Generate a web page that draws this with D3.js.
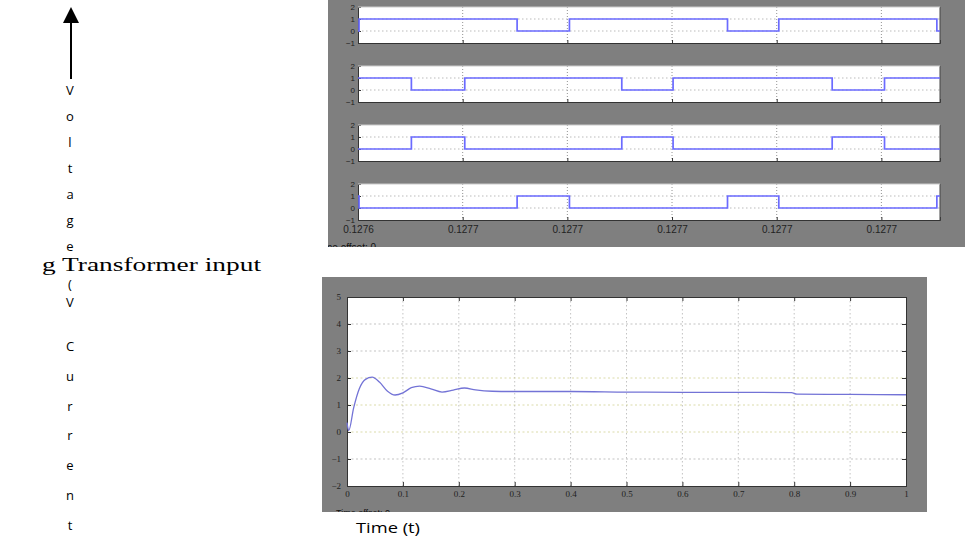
<!DOCTYPE html>
<html>
<head>
<meta charset="utf-8">
<script src="https://cdn.jsdelivr.net/npm/d3@7"></script>
<style>
  body { margin: 0; background: #fff; }
  svg { display: block; }
</style>
</head>
<body>
<div id="chart"></div>
<script>
// Gate pulse scope (top), in grid divisions
var topTickLabels = ["0.1276", "0.1277", "0.1277", "0.1277", "0.1277", "0.1277"];
var topYTicks = [2, 1, 0, -1];
var pulseA = [[0, 0], [0.01, 1], [1.52, 0], [2.02, 1], [3.53, 0], [4.02, 1], [5.53, 0], [5.56, 0]];
var pulseB = [[0, 1], [0.51, 0], [1.02, 1], [2.52, 0], [3.01, 1], [4.53, 0], [5.03, 1], [5.56, 1]];
var pulseC = [[0, 0], [0.51, 1], [1.02, 0], [2.52, 1], [3.01, 0], [4.53, 1], [5.03, 0], [5.56, 0]];
var pulseD = [[0, 1], [0.01, 0], [1.52, 1], [2.02, 0], [3.53, 1], [4.02, 0], [5.53, 1], [5.56, 1]];

// Current scope (bottom)
var botXTicks = [0, 0.1, 0.2, 0.3, 0.4, 0.5, 0.6, 0.7, 0.8, 0.9, 1];
var botYTicks = [5, 4, 3, 2, 1, 0, -1, -2];
var currentT = [0, 0.003, 0.012, 0.022, 0.033, 0.045, 0.058, 0.072, 0.086, 0.1, 0.115, 0.13, 0.15, 0.17, 0.19, 0.21, 0.23, 0.26, 0.3, 0.4, 0.5, 0.6, 0.7, 0.795, 0.805, 0.9, 1];
var currentI = [0.35, 0.05, 0.9, 1.6, 1.95, 2.03, 1.85, 1.52, 1.37, 1.45, 1.64, 1.70, 1.6, 1.48, 1.55, 1.63, 1.56, 1.51, 1.5, 1.5, 1.48, 1.47, 1.47, 1.46, 1.40, 1.39, 1.38];

// Side labels (one letter per line, baselines)
var voltLetters = ["V", "o", "l", "t", "a", "g", "e", "(", "V"];
var voltBase = [95, 121, 147, 173, 199, 225, 251, 289, 307];
var currLetters = ["C", "u", "r", "r", "e", "n", "t"];

var svg = d3.select("#chart").append("svg")
    .attr("width", 965)
    .attr("height", 544);

var scopeGray = "#7f7f7f";
var waveBlue = "#6b6bff";

function styleAxis(font) {
    return function(a) {
        a.select(".domain").attr("stroke", "#333");
        a.selectAll("line").attr("stroke", "#333");
        a.selectAll("text").attr("fill", "#222").style("font", font);
    };
}

// ---------- Top scope ----------
svg.append("rect")
    .attr("x", 328).attr("y", 0)
    .attr("width", 637).attr("height", 247)
    .attr("fill", scopeGray);

var clipTop = svg.append("clipPath").attr("id", "clipTop");
clipTop.append("rect").attr("x", 328).attr("y", 0).attr("width", 637).attr("height", 247);

var xTop = d3.scaleLinear().domain([0, 5.56]).range([358, 940]);
var pulses = [pulseA, pulseB, pulseC, pulseD];
var panelTops = [7, 66, 125, 184];
var panelH = 36;

pulses.forEach(function(series, i) {
    var y = d3.scaleLinear().domain([-1, 2]).range([panelTops[i] + panelH, panelTops[i]]);
    var g = svg.append("g");

    g.append("rect")
        .attr("x", xTop.range()[0]).attr("y", panelTops[i])
        .attr("width", xTop.range()[1] - xTop.range()[0]).attr("height", panelH)
        .attr("fill", "#fff");

    // dotted grid
    g.selectAll(".vg").data([1, 2, 3, 4, 5]).enter().append("line")
        .attr("x1", function(d) { return xTop(d); }).attr("x2", function(d) { return xTop(d); })
        .attr("y1", panelTops[i]).attr("y2", panelTops[i] + panelH)
        .attr("stroke", "#777").attr("stroke-width", 0.8)
        .attr("stroke-dasharray", "1,2");
    g.selectAll(".hg").data([0, 1]).enter().append("line")
        .attr("x1", xTop.range()[0]).attr("x2", xTop.range()[1])
        .attr("y1", function(d) { return y(d); }).attr("y2", function(d) { return y(d); })
        .attr("stroke", "#aaa").attr("stroke-width", 0.8)
        .attr("stroke-dasharray", "1.5,2.5");

    // axes
    g.append("g")
        .attr("transform", "translate(" + xTop.range()[0] + ",0)")
        .call(d3.axisLeft(y).tickValues(topYTicks).tickSize(-3).tickPadding(3).tickFormat(d3.format("d")))
        .call(styleAxis("8px 'Liberation Sans'"));
    g.append("g")
        .attr("transform", "translate(0," + (panelTops[i] + panelH) + ")")
        .call(d3.axisBottom(xTop).tickValues([0, 1, 2, 3, 4, 5]).tickSize(-3).tickPadding(6)
            .tickFormat(function(d) { return i === 3 ? topTickLabels[d] : ""; }))
        .call(styleAxis("10px 'Liberation Sans'"));
    g.append("line")
        .attr("x1", xTop.range()[1]).attr("x2", xTop.range()[1])
        .attr("y1", panelTops[i]).attr("y2", panelTops[i] + panelH)
        .attr("stroke", "#444");
    g.append("line")
        .attr("x1", xTop.range()[0]).attr("x2", xTop.range()[1])
        .attr("y1", panelTops[i]).attr("y2", panelTops[i])
        .attr("stroke", "#ccc");

    g.append("path")
        .datum(series)
        .attr("fill", "none")
        .attr("stroke", waveBlue)
        .attr("stroke-width", 1.7)
        .attr("d", d3.line().curve(d3.curveStepAfter)
            .x(function(d) { return xTop(d[0]); })
            .y(function(d) { return y(d[1]); }));
});

svg.append("text")
    .attr("x", 316).attr("y", 251)
    .attr("clip-path", "url(#clipTop)")
    .style("font", "10px 'Liberation Sans'")
    .attr("fill", "#111")
    .text("Time offset:  0");

// ---------- Bottom scope ----------
svg.append("rect")
    .attr("x", 322).attr("y", 277)
    .attr("width", 605).attr("height", 235)
    .attr("fill", scopeGray);

var clipBot = svg.append("clipPath").attr("id", "clipBot");
clipBot.append("rect").attr("x", 322).attr("y", 277).attr("width", 605).attr("height", 235);

var xBot = d3.scaleLinear().domain([0, 1]).range([347, 906]);
var yBot = d3.scaleLinear().domain([-2, 5]).range([486, 297]);

svg.append("rect")
    .attr("x", 347).attr("y", 297)
    .attr("width", 559).attr("height", 189)
    .attr("fill", "#fff");

svg.selectAll(".bvg").data(botXTicks.slice(1, -1)).enter().append("line")
    .attr("x1", function(d) { return xBot(d); }).attr("x2", function(d) { return xBot(d); })
    .attr("y1", 297).attr("y2", 486)
    .attr("stroke", "#b4b4b4").attr("stroke-width", 0.8)
    .attr("stroke-dasharray", "1.5,2.5");
svg.selectAll(".bhg").data(botYTicks.slice(1, -1)).enter().append("line")
    .attr("x1", 347).attr("x2", 906)
    .attr("y1", function(d) { return yBot(d); }).attr("y2", function(d) { return yBot(d); })
    .attr("stroke", function(d) { return d >= 0 && d <= 2 ? "#d2d294" : "#b4b4b4"; })
    .attr("stroke-width", 0.8)
    .attr("stroke-dasharray", "2,2.5");

svg.append("g")
    .attr("transform", "translate(347,0)")
    .call(d3.axisLeft(yBot).tickValues(botYTicks).tickSize(-4).tickPadding(6).tickFormat(d3.format("d")))
    .call(styleAxis("9px 'Liberation Serif'"));
svg.append("g")
    .attr("transform", "translate(906,0)")
    .call(d3.axisRight(yBot).tickValues(botYTicks).tickSize(-4).tickFormat(""))
    .call(styleAxis("9px 'Liberation Serif'"));
svg.append("g")
    .attr("transform", "translate(0,486)")
    .call(d3.axisBottom(xBot).tickValues(botXTicks).tickSize(-4).tickPadding(5).tickFormat(d3.format("")))
    .call(styleAxis("9px 'Liberation Serif'"));
svg.append("g")
    .attr("transform", "translate(0,297)")
    .call(d3.axisTop(xBot).tickValues(botXTicks).tickSize(-4).tickFormat(""))
    .call(styleAxis("9px 'Liberation Serif'"));

svg.append("path")
    .datum(d3.zip(currentT, currentI))
    .attr("fill", "none")
    .attr("stroke", "#7373d6")
    .attr("stroke-width", 1.3)
    .attr("d", d3.line().curve(d3.curveMonotoneX)
        .x(function(d) { return xBot(d[0]); })
        .y(function(d) { return yBot(d[1]); }));

svg.append("text")
    .attr("x", 336).attr("y", 516)
    .attr("clip-path", "url(#clipBot)")
    .style("font", "9px 'Liberation Sans'")
    .attr("fill", "#111")
    .text("Time offset:  0");

svg.append("text")
    .attr("x", 356).attr("y", 533)
    .attr("textLength", 64)
    .attr("lengthAdjust", "spacingAndGlyphs")
    .style("font", "15px 'Open Sans'")
    .attr("fill", "#000")
    .text("Time (t)");

// ---------- Side labels ----------
svg.append("line")
    .attr("x1", 71).attr("x2", 71)
    .attr("y1", 79).attr("y2", 20)
    .attr("stroke", "#000").attr("stroke-width", 2);
svg.append("path")
    .attr("d", "M63,23L79,23L71,7Z")
    .attr("fill", "#000");

svg.selectAll(".vl").data(voltLetters).enter().append("text")
    .attr("x", 70)
    .attr("y", function(d, i) { return voltBase[i]; })
    .attr("text-anchor", "middle")
    .style("font", "13px 'Open Sans'")
    .text(function(d) { return d; });

svg.selectAll(".cl").data(currLetters).enter().append("text")
    .attr("x", 70)
    .attr("y", function(d, i) { return 351 + i * 29.8; })
    .attr("text-anchor", "middle")
    .style("font", "13px 'Open Sans'")
    .text(function(d) { return d; });

svg.append("text")
    .attr("x", 42).attr("y", 271)
    .attr("textLength", 219)
    .attr("lengthAdjust", "spacingAndGlyphs")
    .style("font", "18px 'Liberation Serif'")
    .text("g Transformer input");
</script>
</body>
</html>
